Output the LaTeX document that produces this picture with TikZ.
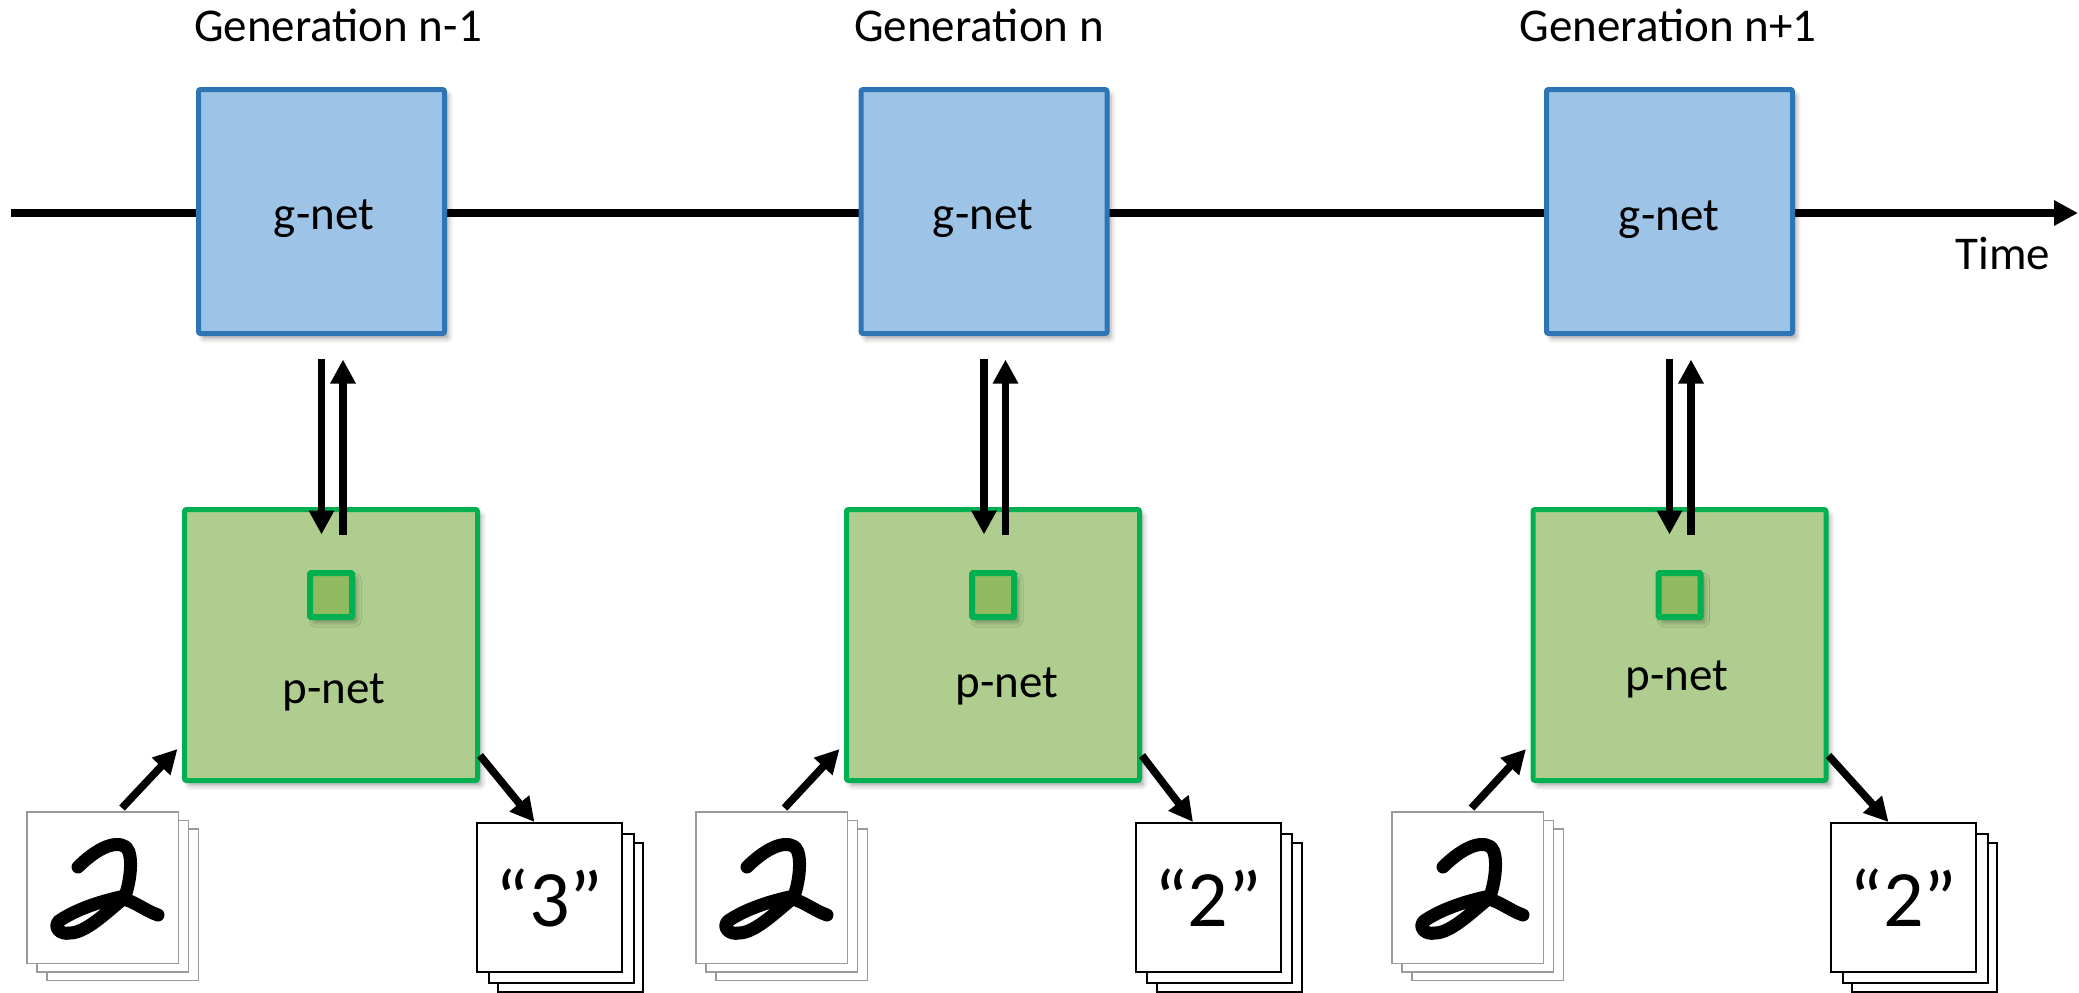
\documentclass[tikz,border=0pt]{standalone}
\usepackage{fontspec}
\setmainfont{Carlito}
\usetikzlibrary{arrows.meta,shadows.blur,calc}
\definecolor{gfill}{HTML}{9DC3E6}
\definecolor{gline}{HTML}{2E75B6}
\definecolor{pfill}{HTML}{AECD8E}
\definecolor{pline}{HTML}{00B050}
\definecolor{sfill}{HTML}{8FBA5F}
\definecolor{imgline}{HTML}{9A9A9A}
\tikzset{
  boxshadow/.style={blur shadow={shadow xshift=2pt,shadow yshift=-2.5pt,shadow blur radius=2.5pt,shadow opacity=35}},
  gbox/.style={draw=gline, fill=gfill, line width=2.5pt, minimum width=123pt, minimum height=122pt, inner sep=0pt, rounded corners=1pt, boxshadow},
  pbox/.style={draw=pline, fill=pfill, line width=2.5pt, minimum width=146.5pt, minimum height=135.5pt, inner sep=0pt, rounded corners=1pt, boxshadow},
  sqbox/.style={draw=pline, fill=sfill, line width=3pt, minimum width=21pt, minimum height=22pt, inner sep=0pt, rounded corners=0.5pt, boxshadow},
  imgbox/.style={draw=imgline, fill=white, line width=0.75pt, minimum width=75.75pt, minimum height=75.75pt, inner sep=0pt},
  cardbox/.style={draw=black, fill=white, line width=1pt, minimum width=72.5pt, minimum height=74.5pt, inner sep=0pt},
  titletxt/.style={font=\fontsize{23.5}{28}\selectfont, inner sep=0pt},
  lab/.style={font=\fontsize{23.5}{28}\selectfont, inner sep=0pt},
  arr/.style={line width=3.8pt, -{Triangle[length=12pt,width=12pt]}},
  mnist/.pic={
    \draw[line width=6.5pt, line cap=round, line join=round]
      (52,56) .. controls (68,40) and (88,28) .. (100,36)
      .. controls (108,44) and (104,72) .. (99,85)
      .. controls (85,88) and (55,95) .. (33,110)
      .. controls (27,116) and (34,124) .. (44,122)
      .. controls (60,122) and (82,100) .. (97,88)
      .. controls (108,90) and (120,100) .. (132,104);
  }
}
\begin{document}
\begin{tikzpicture}[x=0.5pt,y=-0.5pt]
\useasboundingbox (0,0) rectangle (2079,992);
\coordinate (tstart) at (11,213);
\coordinate (tend) at (2078,213);
\draw[arr] (tstart) -- (tend);
\node[titletxt, anchor=base] (time) at (2003,269) {Time};
\foreach \i/\gx/\glx/\gly/\tx/\ttl/\px/\plx/\ply/\ix/\cx/\dg/\ta in {
 1/321.5/324/229/338/{Generation n-1}/331/334/703/102.5/549.5/3/9.75pt,
 2/984/983/229/979/{Generation n}/993/1007/697/771.5/1208/2/6.5pt,
 3/1669.5/1669/230/1668/{Generation n+1}/1679.5/1677/690/1467.5/1903.5/2/2pt}
{
 \node[titletxt, anchor=base] (title\i) at (\tx,41) {\ttl};
 \node[gbox] (g\i) at (\gx,211.5) {};
 \node[lab, anchor=base] (gl\i) at (\glx,\gly) {g-net};
 \node[pbox] (p\i) at (\px,645) {};
 \node[sqbox] (s\i) at (\px,595) {};
 \node[lab, anchor=base] (pl\i) at (\plx,\ply) {p-net};
 \draw[arr] ($(g\i.south)+(0,22.5)$) -- ($(g\i.south |- p\i.north)+(0,27.5)$);
 \draw[arr] ($(g\i.south |- p\i.north)+(21.5,27.5)$) -- ($(g\i.south)+(21.5,23.5)$);
 \node[imgbox] (ic\i) at (\ix+20,887.5+17) {};
 \node[imgbox] (ib\i) at (\ix+10,887.5+8.5) {};
 \node[imgbox] (i\i) at (\ix,887.5) {};
 \pic at (i\i.north west) {mnist};
 \node[cardbox] (cc\i) at (\cx+21,897.5+20) {};
 \node[cardbox] (cb\i) at (\cx+11.5,897.5+11) {};
 \node[cardbox, font=\fontsize{40}{48}\selectfont] (c\i) at (\cx,897.5) {“\dg”};
 \draw[arr] ([xshift=\ta,yshift=1.5pt]i\i.north) -- ([xshift=-2.25pt,yshift=17pt]p\i.south west);
 \draw[arr] ([yshift=13.75pt]p\i.south east) -- ([xshift=-7.5pt]c\i.north);
}
\end{tikzpicture}
\end{document}
